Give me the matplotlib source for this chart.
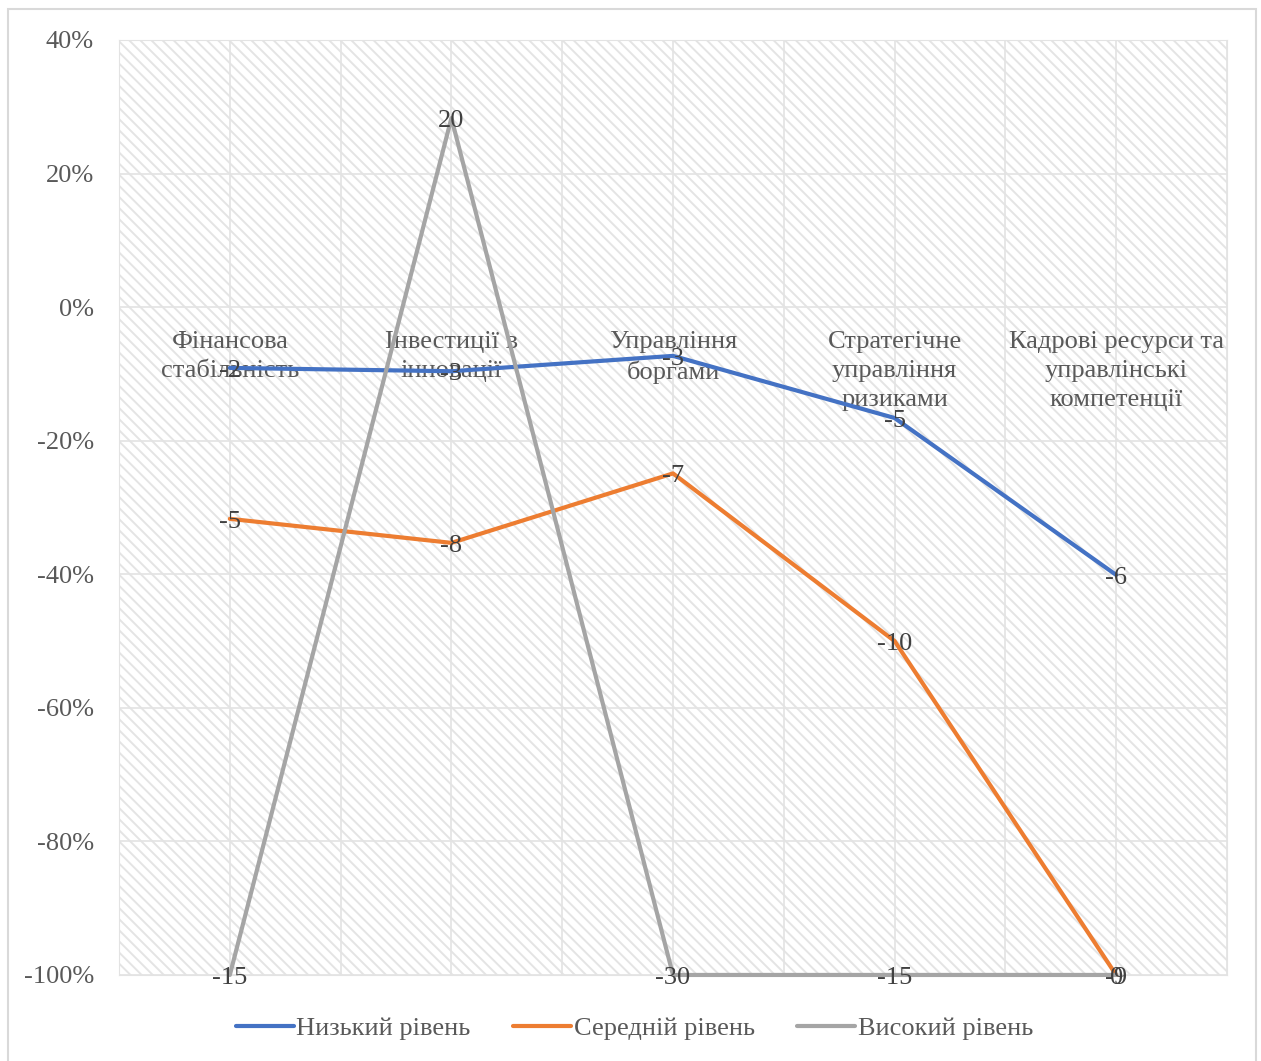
import matplotlib.pyplot as plt
from matplotlib.patches import Rectangle
from matplotlib.ticker import FuncFormatter

plt.rcParams['font.family'] = ['Liberation Serif', 'DejaVu Serif']
plt.rcParams['hatch.linewidth'] = 1.4

categories = ['Фінансова\nстабільність', 'Інвестиції в\nінновації', 'Управління\nборгами',
              'Стратегічне\nуправління\nризиками', 'Кадрові ресурси та\nуправлінські\nкомпетенції']
series_names = ['Низький рівень', 'Середній рівень', 'Високий рівень']
low_values = [-9.1, -9.6, -7.3, -16.6, -40.1]
mid_values = [-31.7, -35.3, -24.9, -50.0, -100.0]
high_values = [-100.0, 28.3, -100.0, -100.0, -100.0]
low_labels = ['-2', '-3', '-3', '-5', '-6']
mid_labels = ['-5', '-8', '-7', '-10', '-9']
high_labels = ['-15', '20', '-30', '-15', '0']
colors = ['#4472C4', '#ED7D31', '#A5A5A5']

fig = plt.figure(figsize=(12.61, 10.61), dpi=100)
ax = fig.add_axes([0.0944, 0.0811, 0.8786, 0.8812])

# hatched background of the plot area
ax.add_patch(Rectangle((0, 0), 1, 1, transform=ax.transAxes, facecolor='white',
                       edgecolor='#E4E4E4', hatch='\\\\\\', lw=0, zorder=0))

x = list(range(len(categories)))
for vals, labs, col, name in zip([low_values, mid_values, high_values],
                                 [low_labels, mid_labels, high_labels], colors, series_names):
    ax.plot(x, vals, color=col, lw=3, label=name, clip_on=False, zorder=3,
            solid_capstyle='round', solid_joinstyle='round')
    for xi, v, t in zip(x, vals, labs):
        ax.text(xi, v - 0.4, t, ha='center', va='center', fontsize=19, color='#404040', zorder=4)

for i, c in enumerate(categories):
    ax.text(i, -3.5, c, ha='center', va='top', fontsize=19, color='#595959',
            linespacing=1.42, zorder=2)

ax.set_xlim(-0.5, 4.5)
ax.set_ylim(-100, 40)
ax.set_yticks(range(-100, 41, 20))
ax.yaxis.set_major_formatter(FuncFormatter(lambda v, p: f'{int(v)}%'))
ax.set_xticks([i * 0.5 - 0.5 for i in range(11)])
ax.set_xticklabels([])
ax.tick_params(length=0, labelsize=19, labelcolor='#595959', pad=18)
ax.grid(True, color='#E3E3E3', lw=1.2, zorder=1)
ax.set_axisbelow(True)
for s in ax.spines.values():
    s.set_color('#E3E3E3')

leg = fig.legend(loc='center', bbox_to_anchor=(0.503, 0.031), ncol=3, frameon=False,
                 fontsize=19, handlelength=2.2, handletextpad=0.1, columnspacing=1.6,
                 labelcolor='#595959')
for h in leg.get_lines():
    h.set_linewidth(3)

fig.add_artist(Rectangle((8 / 1261, -0.01), 1248 / 1261, 1 - 9 / 1061 + 0.01,
                         transform=fig.transFigure, fill=False, edgecolor='#D9D9D9', lw=1.5))

fig.savefig('out.png', dpi=100)
